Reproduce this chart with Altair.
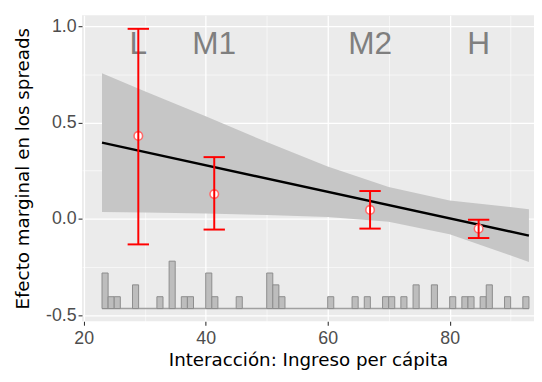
import altair as alt
import pandas as pd

# ---------------- data ----------------
X_DOMAIN = [19.72, 93.83]
Y_DOMAIN = [-0.532, 1.056]

# confidence band of the marginal effect
band_x = [23, 30, 40, 50, 60, 70, 80, 93]
band_lo = [0.035, 0.032, 0.027, 0.020, 0.009, -0.016, -0.080, -0.224]
band_hi = [0.755, 0.662, 0.532, 0.398, 0.271, 0.165, 0.095, 0.050]

# estimated marginal effect line
line_x = [23, 93]
line_y = [0.395, -0.087]

# binned estimates
groups = ["L", "M1", "M2", "H"]
grp_x = [28.95, 41.4, 66.95, 84.75]
grp_est = [0.43, 0.128, 0.046, -0.052]
grp_lo = [-0.133, -0.056, -0.051, -0.100]
grp_hi = [0.986, 0.320, 0.144, -0.005]
LABEL_Y = 0.855

# histogram of the moderator (bin start, count)
hist_start = [23, 24, 25, 28, 32, 34, 36, 37, 40, 41, 45, 50, 51, 52, 60,
              64, 66, 69, 70, 72, 74, 77, 80, 82, 83, 85, 86, 89, 92]
hist_count = [3, 1, 1, 2, 1, 4, 1, 1, 3, 1, 1, 3, 2, 1, 1,
              1, 1, 1, 1, 1, 2, 2, 1, 1, 1, 1, 2, 1, 1]
BIN_W = 1.0
HIST_BASE = -0.466
HIST_UNIT = 0.0615

# ---------------- tables ----------------
band_df = pd.DataFrame({"x": band_x, "lo": band_lo, "hi": band_hi})
line_df = pd.DataFrame({"x": line_x, "y": line_y})
grp_df = pd.DataFrame({"g": groups, "x": grp_x, "est": grp_est,
                       "lo": grp_lo, "hi": grp_hi})
hist_df = pd.DataFrame({"start": hist_start, "count": hist_count})
base_df = pd.DataFrame({"x0": [min(hist_start)], "x1": [max(hist_start) + BIN_W],
                        "y": [HIST_BASE]})

xs = alt.Scale(domain=X_DOMAIN, nice=False, zero=False)
ys = alt.Scale(domain=Y_DOMAIN, nice=False, zero=False)

X_TITLE = "Interacción: Ingreso per cápita"
Y_TITLE = "Efecto marginal en los spreads"
YMINOR = "abs(datum.value*2 - round(datum.value*2)) > 0.01"

x_axis = alt.Axis(
    values=[20, 30, 40, 50, 60, 70, 80, 90],
    labelExpr="datum.value % 20 == 0 ? datum.label : ''",
    gridWidth={"condition": {"test": "datum.value % 20 != 0", "value": 0.6}, "value": 1.3},
    tickOpacity={"condition": {"test": "datum.value % 20 != 0", "value": 0}, "value": 1},
    title=X_TITLE,
    labelPadding=5,
    titlePadding=3,
)
y_axis = alt.Axis(
    values=[-0.5, -0.25, 0, 0.25, 0.5, 0.75, 1.0],
    labelExpr=f"{YMINOR} ? '' : replace(format(datum.value, '.1f'), '\u2212', '-')",
    gridWidth={"condition": {"test": YMINOR, "value": 0.6}, "value": 1.3},
    tickOpacity={"condition": {"test": YMINOR, "value": 0}, "value": 1},
    title=Y_TITLE,
    titlePadding=13,
)


def X(field):
    return alt.X(field, type="quantitative", scale=xs, axis=x_axis, title=X_TITLE)


def Y(field):
    return alt.Y(field, type="quantitative", scale=ys, axis=y_axis, title=Y_TITLE)


band = alt.Chart(band_df).mark_area(color="#c6c6c6", opacity=1).encode(
    x=X("x"), y=Y("lo"), y2="hi:Q",
)

line = alt.Chart(line_df).mark_line(color="black", strokeWidth=2.4).encode(
    x=X("x"), y=Y("y"),
)

hist = alt.Chart(hist_df).transform_calculate(
    x1=f"datum.start + {BIN_W}",
    y0=f"{HIST_BASE}",
    y1=f"{HIST_BASE} + datum.count * {HIST_UNIT}",
).mark_rect(fill="#bdbdbd", stroke="#8c8c8c", strokeWidth=1, fillOpacity=1).encode(
    x=X("start"), x2="x1:Q", y=Y("y0"), y2="y1:Q",
)

base = alt.Chart(base_df).mark_rule(color="#a0a0a0", strokeWidth=1.6).encode(
    x=X("x0"), x2="x1:Q", y=Y("y"),
)

labels = alt.Chart(grp_df).transform_calculate(ly=f"{LABEL_Y}").mark_text(
    font="Liberation Sans", fontSize=32, color="#7f7f7f", align="center",
    baseline="alphabetic",
).encode(
    x=X("x"), y=Y("ly"), text="g:N",
)

points = alt.Chart(grp_df).mark_point(
    shape="circle", size=75, filled=False, fill="white", fillOpacity=1,
    stroke="#ff6a6a", strokeWidth=1.6, opacity=1,
).encode(
    x=X("x"), y=Y("est"),
)

CAP = 1.75
ebar = alt.Chart(grp_df).mark_rule(color="red", strokeWidth=2).encode(
    x=X("x"), y=Y("lo"), y2="hi:Q",
)
cap_top = alt.Chart(grp_df).transform_calculate(
    a=f"datum.x - {CAP}", b=f"datum.x + {CAP}"
).mark_rule(color="red", strokeWidth=2).encode(
    x=X("a"), x2="b:Q", y=Y("hi"),
)
cap_bot = alt.Chart(grp_df).transform_calculate(
    a=f"datum.x - {CAP}", b=f"datum.x + {CAP}"
).mark_rule(color="red", strokeWidth=2).encode(
    x=X("a"), x2="b:Q", y=Y("lo"),
)

chart = alt.layer(
    band, base, hist, line, labels, points, ebar, cap_top, cap_bot
).properties(
    width=458, height=310,
    autosize=alt.AutoSizeParams(type="none"),
    padding={"left": 75, "top": 5, "right": 0, "bottom": 51},
).configure(
    background="white",
).configure_view(
    fill="#ebebeb", stroke=None,
).configure_axis(
    domain=False,
    gridColor="white",
    tickColor="#333333",
    tickSize=4,
    tickWidth=1.1,
    labelFont="Liberation Sans",
    labelFontSize=18,
    labelColor="#4d4d4d",
    labelPadding=2,
    titleFont="DejaVu Sans",
    titleFontSize=18.5,
    titleFontWeight="normal",
    titleColor="black",
)

chart.save("out.html", embed_options={"renderer": "svg", "actions": False})
